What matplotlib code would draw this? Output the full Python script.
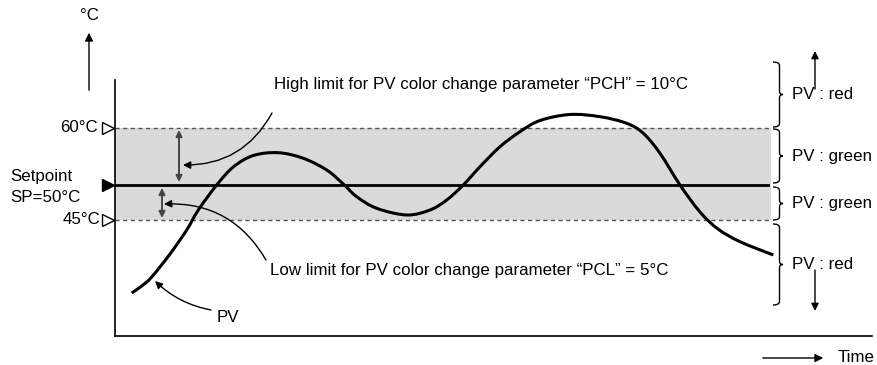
import matplotlib.pyplot as plt
import numpy as np
from matplotlib.path import Path
from matplotlib.patches import PathPatch

plt.rcParams['font.family'] = ['Liberation Sans', 'DejaVu Sans']

# Schematic diagram: x = time (diagram units), y = level (diagram units, downward)
pv_time = [131.7, 141.7, 151.7, 170, 186.7, 198.3, 216.7, 233.3, 253.3, 278.3, 303.3,
           326.7, 343.3, 356.7, 376.7, 406.7, 430, 446.7, 463.3, 480, 500,
           520, 540, 570, 600, 626.7, 643.3, 660, 680, 700,
           718, 740, 773.3]
pv_level = [293, 286, 277, 254, 230, 210, 185, 167, 155.5, 152.7, 158.3,
            170, 184, 196.7, 208.3, 215, 210, 200, 185, 166.7, 146.7,
            131.7, 120.5, 114.5, 116.7, 123.3, 133.3, 153.3, 185, 212,
            229, 241.7, 255]

level_high = 128      # 60°C
level_sp = 185        # SP = 50°C
level_low = 220       # 45°C
t_start, t_end = 115, 771

brace_ranges = [(62, 127), (129, 183), (187, 220), (224, 305)]
brace_labels = ['PV : red', 'PV : green', 'PV : green', 'PV : red']

fig = plt.figure(figsize=(8.77, 3.65), dpi=100)
ax = fig.add_axes([0, 0, 1, 1])
ax.set_xlim(0, 877)
ax.set_ylim(365, 0)
ax.axis('off')

fs = 12.2

# band + limits
ax.fill_between([t_start, t_end], level_high, level_low, color='#dadada', lw=0, zorder=0)
ax.plot([t_start, t_end], [level_high, level_high], ls=(0, (3, 2.5)), color='#555555', lw=1)
ax.plot([t_start, t_end], [level_low, level_low], ls=(0, (3, 2.5)), color='#555555', lw=1)
ax.plot([t_start, 768], [level_sp, level_sp], color='black', lw=2)


# PV curve: smooth path through the read points (Catmull-Rom as cubic Bezier)
def smooth_path(xs, ys):
    p = np.column_stack([xs, ys])
    verts = [tuple(p[0])]
    codes = [Path.MOVETO]
    for i in range(len(p) - 1):
        p0 = p[i - 1] if i > 0 else p[i]
        p3 = p[i + 2] if i + 2 < len(p) else p[i + 1]
        c1 = p[i] + (p[i + 1] - p0) / 6
        c2 = p[i + 1] - (p3 - p[i]) / 6
        verts += [tuple(c1), tuple(c2), tuple(p[i + 1])]
        codes += [Path.CURVE4] * 3
    return Path(verts, codes)


ax.add_patch(PathPatch(smooth_path(pv_time, pv_level), fc='none', ec='black',
                       lw=2.2, capstyle='butt', zorder=3))

# axes
ax.plot([115, 115], [80, 336], color='black', lw=1.2)
ax.plot([115, 872], [336, 336], color='black', lw=1.2)
ax.annotate('', xy=(89, 30), xytext=(89, 93),
            arrowprops=dict(arrowstyle='-|>', color='black', lw=1, mutation_scale=12))
ax.text(89, 15, '°C', ha='center', va='center', fontsize=fs)
ax.annotate('', xy=(826, 358), xytext=(760, 358),
            arrowprops=dict(arrowstyle='-|>', color='black', lw=1, mutation_scale=12))
ax.text(838, 358, 'Time', ha='left', va='center', fontsize=fs)

# left markers and labels
ax.plot([108], [level_high], marker='>', ms=9, mfc='white', mec='black', mew=1)
ax.plot([108], [level_sp], marker='>', ms=9, mfc='black', mec='black', mew=1)
ax.plot([108], [level_low], marker='>', ms=9, mfc='white', mec='black', mew=1)
ax.text(98, level_high, '60°C', ha='right', va='center', fontsize=fs)
ax.text(100, level_low, '45°C', ha='right', va='center', fontsize=fs)
ax.text(10, 176, 'Setpoint', ha='left', va='center', fontsize=fs)
ax.text(10, 197, 'SP=50°C', ha='left', va='center', fontsize=fs)

# limit double arrows
dbl = dict(arrowstyle='<|-|>', color='#444444', lw=1.4, mutation_scale=9, shrinkA=0, shrinkB=0)
ax.annotate('', xy=(179, 130), xytext=(179, 182), arrowprops=dbl)
ax.annotate('', xy=(162, 188), xytext=(162, 218), arrowprops=dbl)

# annotations
ax.text(274, 84, 'High limit for PV color change parameter \u201cPCH\u201d = 10°C',
        ha='left', va='center', fontsize=fs)
ax.annotate('', xy=(183, 165), xytext=(272, 113),
            arrowprops=dict(arrowstyle='-|>', color='black', lw=1, mutation_scale=11,
                            shrinkA=0, shrinkB=0, connectionstyle='arc3,rad=-0.3'))
ax.text(270, 270, 'Low limit for PV color change parameter \u201cPCL\u201d = 5°C',
        ha='left', va='center', fontsize=fs)
ax.annotate('', xy=(164, 204), xytext=(266, 260),
            arrowprops=dict(arrowstyle='-|>', color='black', lw=1, mutation_scale=11,
                            shrinkA=0, shrinkB=0, connectionstyle='arc3,rad=0.3'))
ax.text(217, 317, 'PV', ha='left', va='center', fontsize=fs)
ax.annotate('', xy=(155, 281), xytext=(211, 310),
            arrowprops=dict(arrowstyle='-|>', color='black', lw=1, mutation_scale=11,
                            shrinkA=0, shrinkB=0, connectionstyle='arc3,rad=-0.15'))


def brace(x, y0, y1, w=10, r=3.5):
    xm = x + w * 0.65
    ym = (y0 + y1) / 2
    verts = [(x, y0), (xm, y0), (xm, y0 + r),
             (xm, ym - r), (xm, ym), (x + w, ym),
             (xm, ym), (xm, ym + r),
             (xm, y1 - r), (xm, y1), (x, y1)]
    codes = [Path.MOVETO, Path.CURVE3, Path.CURVE3,
             Path.LINETO, Path.CURVE3, Path.CURVE3,
             Path.CURVE3, Path.CURVE3,
             Path.LINETO, Path.CURVE3, Path.CURVE3]
    ax.add_patch(PathPatch(Path(verts, codes), fc='none', ec='black', lw=1))


for (y0, y1), lab in zip(brace_ranges, brace_labels):
    brace(773, y0, y1)
    ax.text(792, (y0 + y1) / 2, lab, ha='left', va='center', fontsize=fs)

ax.annotate('', xy=(815, 51), xytext=(815, 89),
            arrowprops=dict(arrowstyle='-|>', color='black', lw=1, mutation_scale=11,
                            shrinkA=0, shrinkB=0))
ax.annotate('', xy=(815, 311), xytext=(815, 270),
            arrowprops=dict(arrowstyle='-|>', color='black', lw=1, mutation_scale=11,
                            shrinkA=0, shrinkB=0))

fig.savefig('out.png', dpi=100, facecolor='white')
